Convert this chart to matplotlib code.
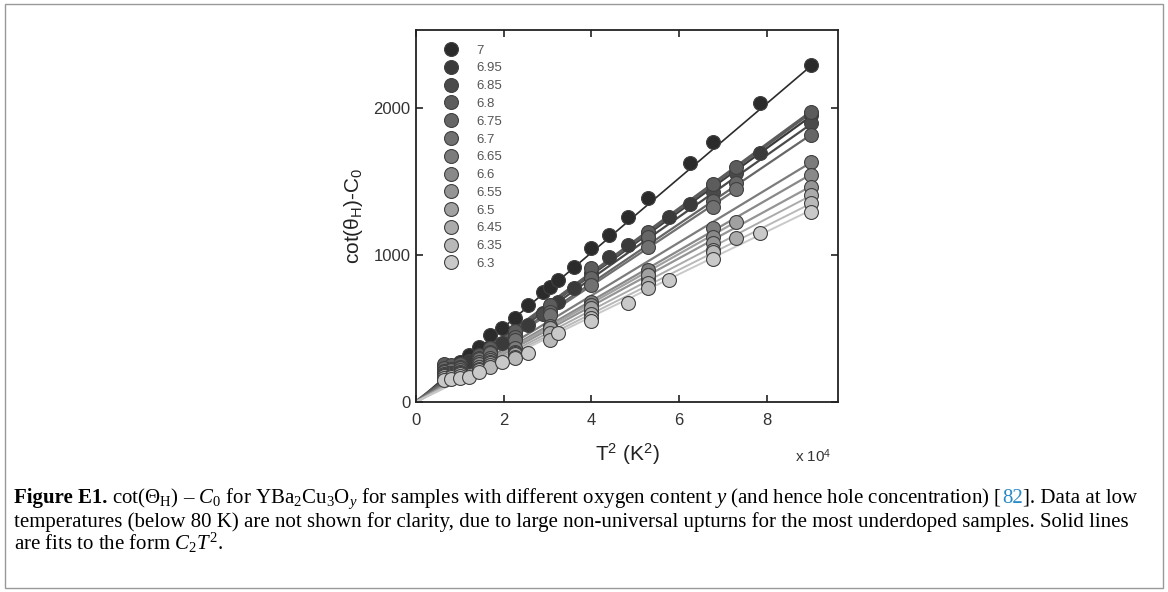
"""cot(theta_H) - C0 contra T^2 para YBa2Cu3Oy com diferentes teores de oxigenio."""

import matplotlib

matplotlib.use("Agg")
import matplotlib.pyplot as plt
import numpy as np
from matplotlib.patches import Rectangle

plt.rcParams["font.family"] = ["Liberation Sans", "DejaVu Sans"]
plt.rcParams["mathtext.fontset"] = "custom"
plt.rcParams["mathtext.rm"] = "Liberation Serif"
plt.rcParams["mathtext.it"] = "Liberation Serif:italic"
plt.rcParams["mathtext.sf"] = "Liberation Sans"

# teor de oxigenio y de cada amostra (ordem da legenda)
OXYGEN = ["7", "6.95", "6.85", "6.8", "6.75", "6.7", "6.65", "6.6", "6.55",
          "6.5", "6.45", "6.35", "6.3"]
GRAYS = ["#2b2b2b", "#3a3a3a", "#4a4a4a", "#5c5c5c", "#666666", "#717171",
         "#7c7c7c", "#898989", "#959595", "#a1a1a1", "#ababab", "#b9b9b9",
         "#c9c9c9"]

# T^2 em unidades de 1e4 K^2 e cot(theta_H) - C0
x_7 = [0.64, 0.81, 1.0, 1.21, 1.44, 1.69, 1.96, 2.25, 2.56, 2.89, 3.06, 3.24,
       3.61, 4.0, 4.41, 4.84, 5.29, 6.25, 6.76, 7.84, 9.0]
y_7 = [225, 245, 275, 320, 374, 456, 503, 571, 660, 748, 782, 830, 918, 1048,
       1136, 1259, 1388, 1626, 1769, 2034, 2290]

x_695 = [0.64, 0.81, 1.0, 1.21, 1.44, 1.69, 1.96, 2.25, 2.56, 2.89, 3.24, 3.61,
         4.0, 4.41, 4.84, 5.29, 5.76, 6.25, 6.76, 7.84, 9.0]
y_695 = [215, 230, 250, 280, 320, 370, 400, 442, 524, 605, 680, 775, 880, 986,
         1068, 1150, 1258, 1347, 1476, 1694, 1950]

x_685 = [0.64, 0.81, 1.0, 1.44, 1.69, 2.25, 2.89, 3.06, 4.0, 5.29, 6.76, 7.29, 9.0]
y_685 = [240, 235, 245, 310, 350, 460, 600, 630, 850, 1110, 1430, 1557, 1900]

x_680 = [0.64, 0.81, 1.0, 1.44, 1.69, 2.25, 3.06, 4.0, 5.29, 6.76, 7.29, 9.0]
y_680 = [255, 250, 260, 320, 365, 480, 660, 911, 1156, 1480, 1599, 1970]

x_675 = [0.64, 0.81, 1.0, 1.44, 1.69, 2.25, 3.06, 4.0, 5.29, 6.76, 7.29, 9.0]
y_675 = [230, 225, 240, 300, 340, 440, 612, 844, 1122, 1370, 1490, 1816]

x_670 = [0.64, 0.81, 1.0, 1.44, 1.69, 2.25, 3.06, 4.0, 5.29, 6.76, 7.29]
y_670 = [210, 215, 230, 290, 330, 422, 590, 796, 1054, 1330, 1450]

x_665 = [0.64, 0.81, 1.0, 1.44, 1.69, 2.25, 3.06, 4.0, 5.29, 6.76, 9.0]
y_665 = [205, 200, 215, 270, 300, 367, 520, 680, 898, 1184, 1633]

x_660 = [0.64, 0.81, 1.0, 1.44, 1.69, 2.25, 3.06, 4.0, 5.29, 6.76, 9.0]
y_660 = [190, 195, 205, 255, 285, 340, 500, 660, 864, 1122, 1544]

x_655 = [0.64, 0.81, 1.0, 1.44, 1.69, 2.25, 3.06, 4.0, 5.29, 6.76, 9.0]
y_655 = [185, 190, 200, 240, 272, 330, 475, 620, 835, 1080, 1463]

x_650 = [0.64, 0.81, 1.0, 1.44, 1.69, 2.25, 3.06, 4.0, 5.29, 7.29]
y_650 = [180, 185, 195, 235, 265, 325, 503, 640, 864, 1224]

x_645 = [0.64, 0.81, 1.0, 1.44, 1.69, 2.25, 3.06, 4.0, 5.29, 6.76, 7.29, 9.0]
y_645 = [175, 178, 190, 225, 250, 306, 469, 600, 810, 1034, 1116, 1408]

x_635 = [0.64, 0.81, 1.0, 1.44, 1.69, 2.25, 3.06, 4.0, 5.29, 6.76, 9.0]
y_635 = [165, 170, 180, 215, 240, 300, 422, 571, 776, 1020, 1354]

x_630 = [0.64, 0.81, 1.0, 1.21, 1.44, 1.96, 2.56, 3.24, 4.0, 4.84, 5.76, 6.76,
         7.84, 9.0]
y_630 = [150, 158, 165, 172, 205, 272, 335, 468, 548, 675, 830, 975, 1150, 1292]

# coeficiente C2 dos ajustes C2*T^2 (por 1e4 K^2)
C2_FITS = [254, 216, 210, 219, 202, 198, 181, 172, 163, 168, 156, 150, 145]
FIT_WIDTHS = [1.2, 1.6, 1.6, 2.6, 1.6, 1.6, 1.6, 1.6, 1.6, 1.6, 1.4, 1.4, 1.4]

SERIES_X = [x_7, x_695, x_685, x_680, x_675, x_670, x_665, x_660, x_655,
            x_650, x_645, x_635, x_630]
SERIES_Y = [y_7, y_695, y_685, y_680, y_675, y_670, y_665, y_660, y_655,
            y_650, y_645, y_635, y_630]


def draw_pieces(fig, x, y, pieces, size):
    """Escreve trechos de texto em sequencia na mesma linha."""
    renderer = fig.canvas.get_renderer()
    for text, color, weight in pieces:
        t = fig.text(x, y, text, fontsize=size, color=color, weight=weight,
                     family="Liberation Serif", va="baseline", ha="left")
        bbox = t.get_window_extent(renderer=renderer)
        x += bbox.width / fig.bbox.width


def main():
    fig = plt.figure(figsize=(11.68, 5.92), dpi=100)
    fig.patches.append(Rectangle((0.004, 0.006), 0.992, 0.988,
                                 transform=fig.transFigure, fill=False,
                                 edgecolor="#999999", linewidth=1.0))

    ax = fig.add_axes([0.356, 0.321, 0.3615, 0.628])

    for i in range(len(OXYGEN)):
        xs = np.array(SERIES_X[i])
        xfit = np.array([0.0, xs.max()])
        ax.plot(xfit, C2_FITS[i] * xfit, color=GRAYS[i],
                linewidth=FIT_WIDTHS[i], zorder=2)

    for i in range(len(OXYGEN)):
        ax.plot(SERIES_X[i], SERIES_Y[i], linestyle="none", marker="o",
                markersize=10, markerfacecolor=GRAYS[i],
                markeredgecolor="#404040", markeredgewidth=0.8,
                label=OXYGEN[i], zorder=3)

    ax.set_xlim(0, 9.62)
    ax.set_ylim(0, 2530)
    ax.set_xticks([0, 2, 4, 6, 8])
    ax.set_yticks([0, 1000, 2000])
    ax.tick_params(direction="in", length=5, width=1.2, top=True, right=True,
                   labelsize=12, colors="#222222", labelcolor="#333333")
    ax.tick_params(axis="x", pad=8)
    ax.tick_params(axis="y", pad=4)
    for spine in ax.spines.values():
        spine.set_linewidth(1.3)
        spine.set_color("#222222")

    ax.set_xlabel(r"T$^{\mathsf{2}}$ (K$^{\mathsf{2}}$)", fontsize=15,
                  color="#222222", labelpad=10)
    ax.set_ylabel(r"cot(θ$_{\mathsf{H}}$)-C$_{\mathsf{0}}$", fontsize=15,
                  color="#222222")
    ax.yaxis.set_label_coords(-0.12, 0.5)
    ax.text(0.985, -0.145, r"x 10$^{\mathsf{4}}$", transform=ax.transAxes,
            fontsize=11, color="#333333", ha="right", va="center")

    ax.legend(loc="upper left", frameon=False, fontsize=9.5,
              labelcolor="#555555", handletextpad=0.9, labelspacing=0.42,
              borderaxespad=0.4, bbox_to_anchor=(0.028, 0.99))

    size = 15.0
    draw_pieces(fig, 0.012, 1 - 503 / 592, [
        ("Figure E1.", "black", "bold"),
        (r" cot(Θ$_{\rm H}$) – $C_0$ for YBa$_2$Cu$_3$O$_y$ for samples with"
         r" different oxygen content $y$ (and hence hole concentration) [",
         "black", "normal"),
        ("82", "#2a8ac8", "normal"),
        ("]. Data at low", "black", "normal"),
    ], size)
    draw_pieces(fig, 0.012, 1 - 527 / 592, [
        ("temperatures (below 80 K) are not shown for clarity, due to large"
         " non-universal upturns for the most underdoped samples. Solid lines",
         "black", "normal"),
    ], size)
    draw_pieces(fig, 0.012, 1 - 550 / 592, [
        (r"are fits to the form $C_2T^2$.", "black", "normal"),
    ], size)

    fig.savefig("out.png", dpi=100)
    plt.close(fig)


if __name__ == "__main__":
    main()
